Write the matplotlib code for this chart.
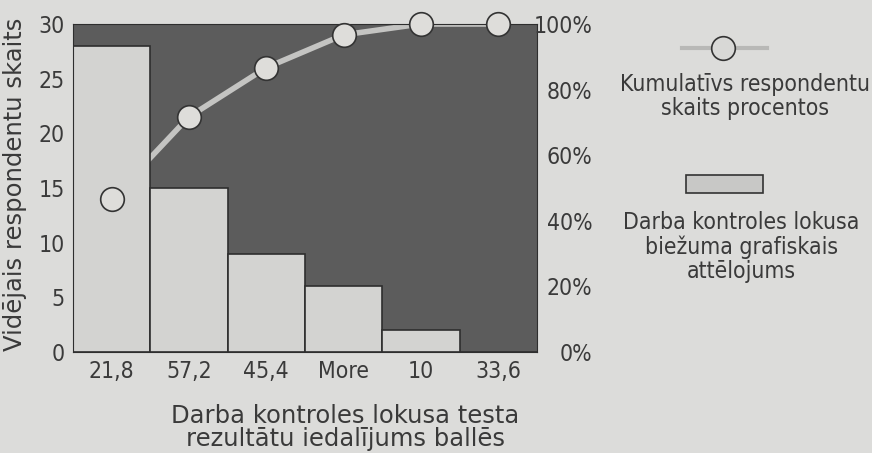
import matplotlib.pyplot as plt
from matplotlib.lines import Line2D
from matplotlib.patches import Rectangle
import numpy as np

categories = ['21,8', '57,2', '45,4', 'More', '10', '33,6']
counts = [28, 15, 9, 6, 2, 0]
cum_pct = [46.7, 71.7, 86.7, 96.7, 100, 100]

plt.rcParams['font.family'] = ['Liberation Sans Narrow', 'DejaVu Sans']
plt.rcParams['font.stretch'] = 'condensed'
paper = '#dcdcda'
txt = '#3a3a3a'
fs = 16.5
label_font = dict(family=['DejaVu Sans'], stretch='normal', fontsize=17.5, color=txt)

fig = plt.figure(figsize=(8.72, 4.53), dpi=100, facecolor=paper)
ax = fig.add_axes([0.0837, 0.223, 0.532, 0.724])
ax.set_facecolor('#5c5c5c')

x = np.arange(len(categories))
ax.bar(x, counts, width=1.0, color='#d3d3d1', edgecolor='#2e2e2e', linewidth=1.2, zorder=2)
# cumulative line sits behind the bars (0-30 scale maps to 0-100 %)
ax.plot(x, np.array(cum_pct) * 30 / 100, color='#c4c4c2', linewidth=4, zorder=1)
ax.set_xlim(-0.5, 5.5)
ax.set_ylim(0, 30)
ax.set_yticks([0, 5, 10, 15, 20, 25, 30])
ax.set_xticks(x)
ax.set_xticklabels(categories)
ax.tick_params(length=0, labelsize=fs, colors=txt, pad=6)
for s in ax.spines.values():
    s.set_color('#2e2e2e')
ax.set_ylabel('Vidējais respondentu skaits', **label_font)
ax.yaxis.set_label_coords(-0.099, 0.512)
ax.set_xlabel('Darba kontroles lokusa testa\nrezultātu iedalījums ballēs', linespacing=0.9,
              **label_font)
ax.xaxis.set_label_coords(0.587, -0.16)

ax2 = ax.twinx()
ax2.plot(x, cum_pct, linestyle='none', marker='o', markersize=17,
         markerfacecolor='#deddda', markeredgecolor='#333333',
         markeredgewidth=1.2, zorder=5, clip_on=False)
ax2.set_ylim(0, 100)
ax2.set_yticks([0, 20, 40, 60, 80, 100])
ax2.set_yticklabels(['0%', '20%', '40%', '60%', '80%', '100%'], ha='right')
ax2.tick_params(length=0, labelsize=fs, colors=txt, pad=40)
for s in ax2.spines.values():
    s.set_visible(False)
ax.set_zorder(1)
ax2.set_zorder(2)
ax2.patch.set_visible(False)

# legend drawn by hand
fig.add_artist(Line2D([0.782, 0.880], [0.894, 0.894], color='#b8b8b6', linewidth=3))
fig.add_artist(Line2D([0.829], [0.894], marker='o', markersize=17, markerfacecolor='#d8d8d6',
                      markeredgecolor='#333333', markeredgewidth=1.2))
fig.text(0.854, 0.786, 'Kumulatīvs respondentu\nskaits procentos', ha='center', va='center',
         fontsize=fs, color=txt, linespacing=1.05)
fig.add_artist(Rectangle((0.787, 0.574), 0.088, 0.04, facecolor='#c8c8c6',
                         edgecolor='#333333', linewidth=1.2))
fig.text(0.850, 0.455, 'Darba kontroles lokusa\nbiežuma grafiskais\nattēlojums', ha='center',
         va='center', fontsize=fs, color=txt, linespacing=1.05)

fig.savefig('out.png', dpi=100, facecolor=paper)
